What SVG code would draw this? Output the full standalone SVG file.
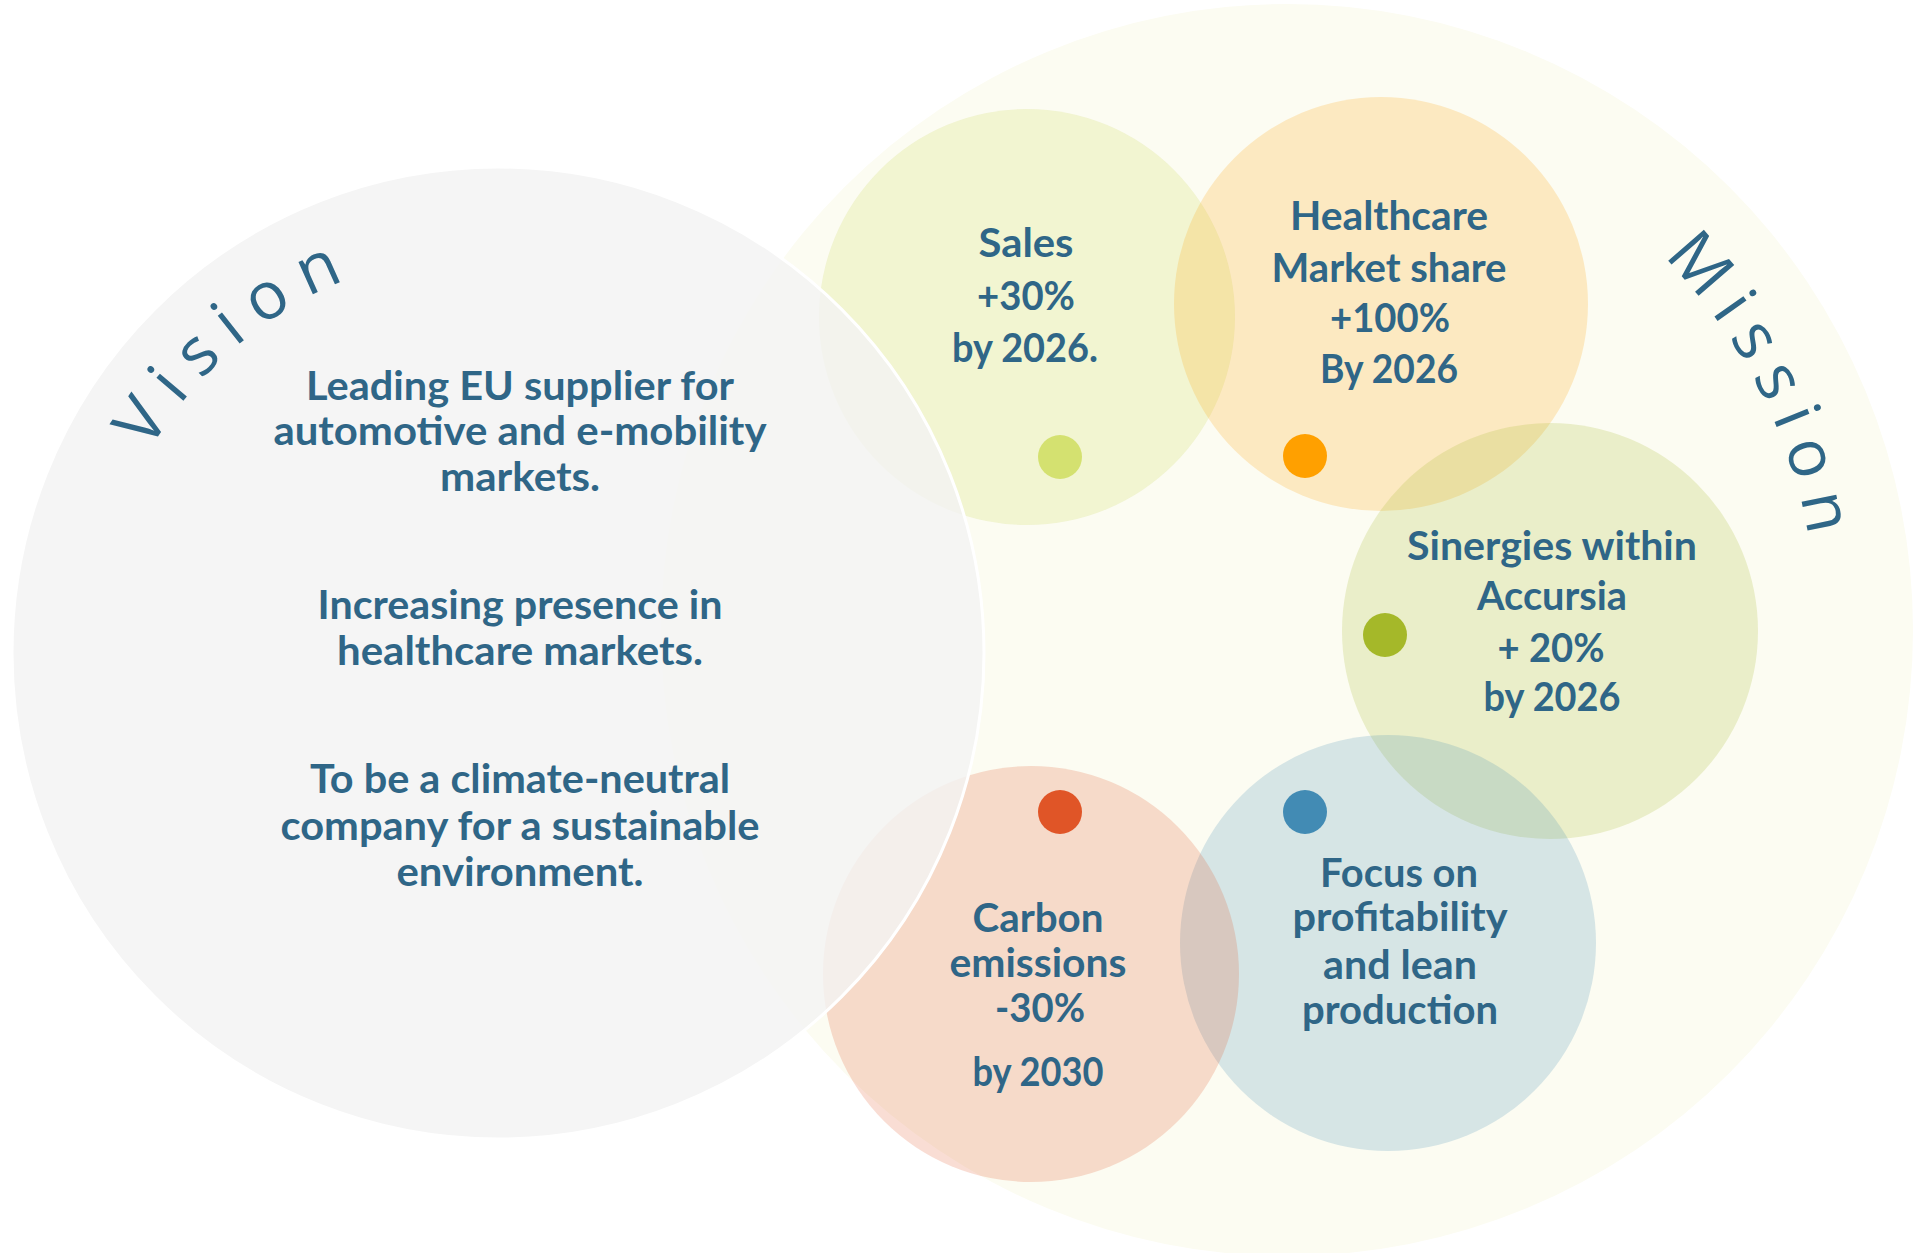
<svg xmlns="http://www.w3.org/2000/svg" width="1921" height="1253" viewBox="0 0 1921 1253">
  <defs>
    <style>
      .t { font-family: Lato, "Open Sans", "Liberation Sans", sans-serif; font-weight: 700; font-size: 41px; fill: #2f6687; text-anchor: middle; }
      .arc { font-family: "Open Sans", "Noto Sans", "Liberation Sans", sans-serif; font-weight: 400; font-size: 66px; fill: #2f6687; }
      .dot { stroke: none; }
    </style>
    <path id="visionArc" d="M 101.1 583 A 403 403 0 0 1 498 250" fill="none"/>
    <path id="missionArc" d="M 1577.6 186.8 A 530 530 0 0 1 1816.1 660" fill="none"/>
  </defs>
  <rect width="1921" height="1253" fill="#ffffff"/>

  <g id="mission">
    <circle cx="1287" cy="630" r="626" fill="#fcfcf2"/>
  </g>

  <g id="sales">
    <circle cx="1027" cy="317" r="208" fill="#d4e170" fill-opacity="0.25"/>
  </g>
  <g id="healthcare">
    <circle cx="1381" cy="304" r="207" fill="#ffa000" fill-opacity="0.2"/>
  </g>
  <g id="sinergies">
    <circle cx="1550" cy="631" r="208" fill="#a5b829" fill-opacity="0.2"/>
  </g>
  <g id="focus">
    <circle cx="1388" cy="943" r="208" fill="#428bb4" fill-opacity="0.2"/>
  </g>
  <g id="carbon">
    <circle cx="1031" cy="974" r="208" fill="#e05527" fill-opacity="0.2"/>
  </g>

  <g id="vision">
    <circle cx="498" cy="653" r="486" fill="#f3f3f3" fill-opacity="0.82" stroke="#ffffff" stroke-width="3"/>
    <text class="arc" letter-spacing="16"><textPath href="#visionArc" startOffset="50%" text-anchor="middle">Vision</textPath></text>
    <text class="t" x="520" y="400" textLength="428" lengthAdjust="spacingAndGlyphs">Leading EU supplier for</text>
    <text class="t" x="520" y="445" textLength="493" lengthAdjust="spacingAndGlyphs">automotive and e-mobility</text>
    <text class="t" x="520" y="491" textLength="160" lengthAdjust="spacingAndGlyphs">markets.</text>
    <text class="t" x="520" y="619" textLength="405" lengthAdjust="spacingAndGlyphs">Increasing presence in</text>
    <text class="t" x="520" y="665" textLength="366" lengthAdjust="spacingAndGlyphs">healthcare markets.</text>
    <text class="t" x="520" y="793" textLength="420" lengthAdjust="spacingAndGlyphs">To be a climate-neutral</text>
    <text class="t" x="520" y="840" textLength="479" lengthAdjust="spacingAndGlyphs">company for a sustainable</text>
    <text class="t" x="520" y="886" textLength="247" lengthAdjust="spacingAndGlyphs">environment.</text>
  </g>

  <g id="mission-label">
    <text class="arc" letter-spacing="14"><textPath href="#missionArc" startOffset="50%" text-anchor="middle">Mission</textPath></text>
  </g>

  <g id="sales-text">
    <circle class="dot" cx="1060" cy="457" r="22" fill="#d4e170"/>
    <text class="t" x="1026" y="257" textLength="95" lengthAdjust="spacingAndGlyphs">Sales</text>
    <text class="t" x="1026" y="310" textLength="98" lengthAdjust="spacingAndGlyphs">+30%</text>
    <text class="t" x="1025" y="362" textLength="146" lengthAdjust="spacingAndGlyphs">by 2026.</text>
  </g>
  <g id="healthcare-text">
    <circle class="dot" cx="1305" cy="456" r="22" fill="#ffa000"/>
    <text class="t" x="1389" y="230" textLength="198" lengthAdjust="spacingAndGlyphs">Healthcare</text>
    <text class="t" x="1389" y="282" textLength="235" lengthAdjust="spacingAndGlyphs">Market share</text>
    <text class="t" x="1390" y="332" textLength="120" lengthAdjust="spacingAndGlyphs">+100%</text>
    <text class="t" x="1389" y="383" textLength="138" lengthAdjust="spacingAndGlyphs">By 2026</text>
  </g>
  <g id="sinergies-text">
    <circle class="dot" cx="1385" cy="635" r="22" fill="#a5b829"/>
    <text class="t" x="1552" y="560" textLength="290" lengthAdjust="spacingAndGlyphs">Sinergies within</text>
    <text class="t" x="1552" y="610" textLength="150" lengthAdjust="spacingAndGlyphs">Accursia</text>
    <text class="t" x="1551" y="662" textLength="107" lengthAdjust="spacingAndGlyphs">+ 20%</text>
    <text class="t" x="1552" y="711" textLength="137" lengthAdjust="spacingAndGlyphs">by 2026</text>
  </g>
  <g id="focus-text">
    <circle class="dot" cx="1305" cy="812" r="22" fill="#428bb4"/>
    <text class="t" x="1399" y="887" textLength="158" lengthAdjust="spacingAndGlyphs">Focus on</text>
    <text class="t" x="1400" y="931" textLength="215" lengthAdjust="spacingAndGlyphs">profitability</text>
    <text class="t" x="1400" y="979" textLength="154" lengthAdjust="spacingAndGlyphs">and lean</text>
    <text class="t" x="1400" y="1024" textLength="196" lengthAdjust="spacingAndGlyphs">production</text>
  </g>
  <g id="carbon-text">
    <circle class="dot" cx="1060" cy="812" r="22" fill="#e05527"/>
    <text class="t" x="1038" y="932" textLength="131" lengthAdjust="spacingAndGlyphs">Carbon</text>
    <text class="t" x="1038" y="977" textLength="177" lengthAdjust="spacingAndGlyphs">emissions</text>
    <text class="t" x="1040" y="1022" textLength="90" lengthAdjust="spacingAndGlyphs">-30%</text>
    <text class="t" x="1038" y="1086" textLength="131" lengthAdjust="spacingAndGlyphs">by 2030</text>
  </g>
  <g id="connectors"></g>
</svg>
